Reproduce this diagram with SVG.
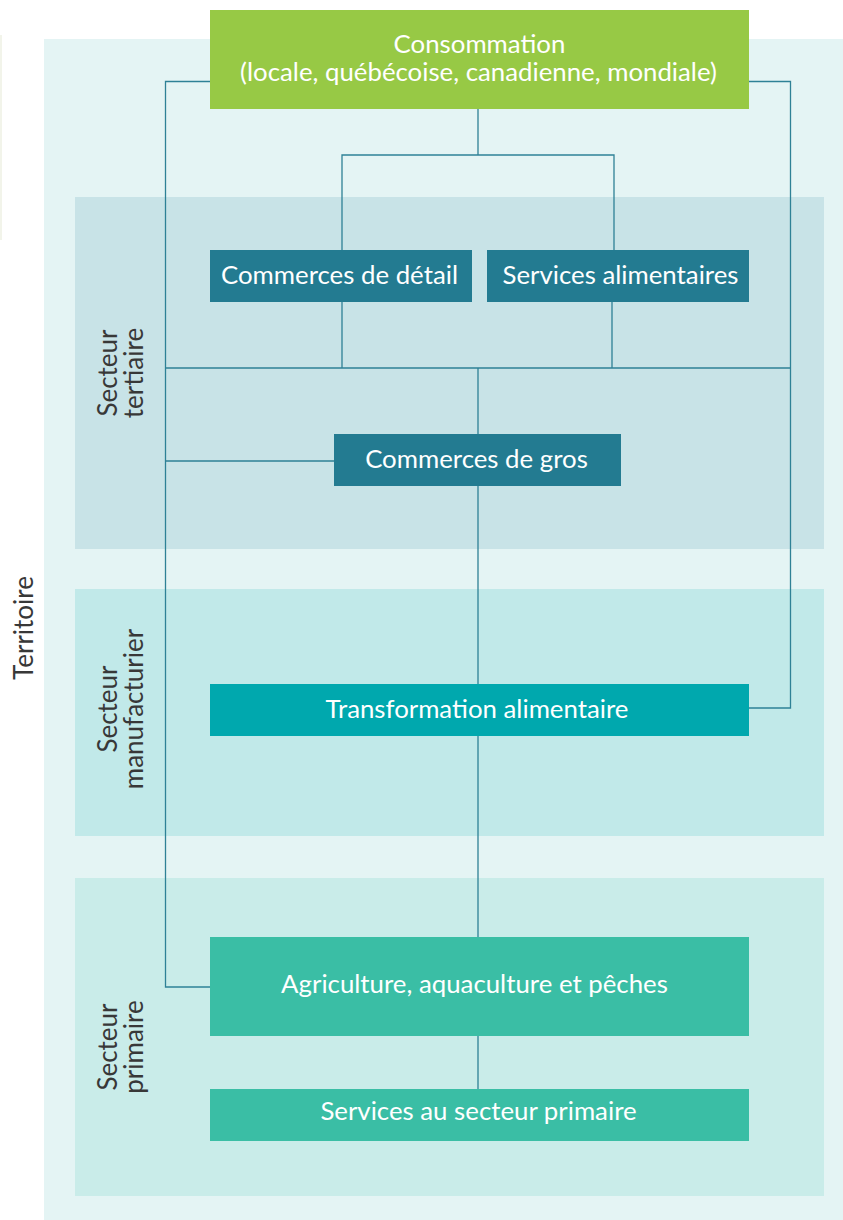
<svg xmlns="http://www.w3.org/2000/svg" width="843" height="1220" viewBox="0 0 843 1220">
<style>
.lbl{font-family:Lato,"Open Sans","Liberation Sans",sans-serif;font-size:25.8px;font-weight:400;fill:#ffffff;text-anchor:middle}
.side{font-family:Lato,"Open Sans","Liberation Sans",sans-serif;font-size:26px;font-weight:400;fill:#383838;text-anchor:middle}
.ln{fill:none;stroke:#2e8196;stroke-width:1.3}
</style>
<rect x="0" y="35" width="2" height="205" fill="#f2f4ea"/>
<rect id="territoire" x="44" y="39" width="799" height="1181" fill="#e4f4f4"/>
<g id="band-tertiaire"><rect x="75" y="197" width="749" height="352" fill="#c8e3e7"/>
<text class="side" transform="translate(117,373) rotate(-90)"><tspan x="0" dy="0">Secteur</tspan><tspan x="0" dy="26">tertiaire</tspan></text></g>
<g id="band-manufacturier"><rect x="75" y="589" width="749" height="247" fill="#c1e9e9"/>
<text class="side" transform="translate(117,709) rotate(-90)"><tspan x="0" dy="0">Secteur</tspan><tspan x="0" dy="26">manufacturier</tspan></text></g>
<g id="band-primaire"><rect x="75" y="878" width="749" height="318" fill="#c9ece9"/>
<text class="side" transform="translate(117,1047) rotate(-90)"><tspan x="0" dy="0">Secteur</tspan><tspan x="0" dy="26">primaire</tspan></text></g>
<text class="side" transform="translate(33,628) rotate(-90)">Territoire</text>
<g id="connectors">
<path class="ln" d="M210 81.5H165.5V987H210"/>
<path class="ln" d="M749 81.5H790.5V708H749"/>
<path class="ln" d="M478 109V155M342 250V155H614V250"/>
<path class="ln" d="M342 302V368M612 302V368M165.5 368H790.5M478 368V434"/>
<path class="ln" d="M165.5 461H334"/>
<path class="ln" d="M478 486V684M478 736V937M478 1036V1089"/>
</g>
<g id="consommation"><rect x="210" y="10" width="539" height="99" fill="#97c945"/>
<text class="lbl" x="479.5" y="53" font-size="26.6">Consommation</text><text class="lbl" x="478.5" y="81" font-size="26.9">(locale, québécoise, canadienne, mondiale)</text></g>
<g id="commerces-detail"><rect x="210" y="250" width="262" height="52" fill="#237b91"/>
<text class="lbl" x="339.5" y="284" font-size="25">Commerces de détail</text></g>
<g id="services-alimentaires"><rect x="487" y="250" width="262" height="52" fill="#237b91"/>
<text class="lbl" x="620.5" y="284" font-size="24.4">Services alimentaires</text></g>
<g id="commerces-gros"><rect x="334" y="434" width="287" height="52" fill="#237b91"/>
<text class="lbl" x="476.5" y="468" font-size="26.2">Commerces de gros</text></g>
<g id="transformation"><rect x="210" y="684" width="539" height="52" fill="#00a8ae"/>
<text class="lbl" x="477" y="718" font-size="25.6">Transformation alimentaire</text></g>
<g id="agriculture"><rect x="210" y="937" width="539" height="99" fill="#3abea5"/>
<text class="lbl" x="474.5" y="993" font-size="26.2">Agriculture, aquaculture et pêches</text></g>
<g id="services-primaire"><rect x="210" y="1089" width="539" height="52" fill="#3abea5"/>
<text class="lbl" x="478.5" y="1120" font-size="25.6">Services au secteur primaire</text></g>
</svg>
